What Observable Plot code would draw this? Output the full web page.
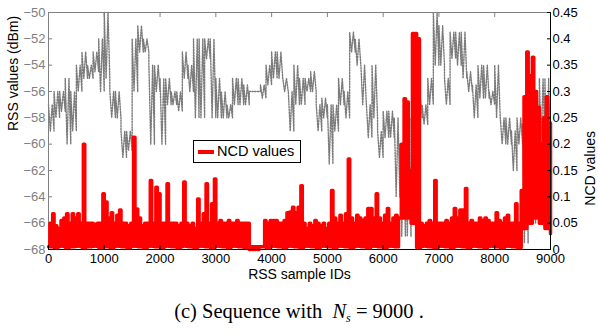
<!DOCTYPE html>
<html><head><meta charset="utf-8">
<script src="https://cdn.jsdelivr.net/npm/d3@7"></script>
<script src="https://cdn.jsdelivr.net/npm/@observablehq/plot@0.6"></script>
<style>
body{margin:0;background:#fff;}
#wrap{position:relative;width:598px;height:333px;font-family:"Liberation Sans",Arial,sans-serif;}
#wrap svg{position:absolute;left:0;top:0;}
#legend{position:absolute;left:193px;top:140px;width:106px;height:21px;border:1px solid #000;background:#fff;}
#legend .sw{position:absolute;left:4px;top:9px;width:16px;height:4px;background:#ff0000;}
#legend .lt{position:absolute;left:23px;top:2px;font-size:14.5px;line-height:17px;color:#000;white-space:nowrap;}
#cap{position:absolute;left:0;top:299px;width:598px;text-align:center;font-family:"Liberation Serif","Times New Roman",serif;font-size:20.5px;line-height:24px;white-space:pre;color:#000;}
</style></head>
<body>
<div id="wrap"></div>
<script>
// tick values
const xTicks = [0,1000,2000,3000,4000,5000,6000,7000,8000,9000];
const rssTicks = [-68,-66,-64,-62,-60,-58,-56,-54,-52,-50];
const ncdTicks = [0,0.05,0.1,0.15,0.2,0.25,0.3,0.35,0.4,0.45];
const ncdTickLabels = ["0","0.05","0.1","0.15","0.2","0.25","0.3","0.35","0.4","0.45"];

// RSS band per 100-sample bin: upper and lower levels (dBm)
const rssHi = [-57,-56,-56,-55,-56,-54,-53,-54,-53,-52,
 -50,-56,-56,-59,-59,-52,-51,-52,-54,-54,
 -55,-55,-56,-56,-53,-54,-52,-52,-52,-52,
 -55,-56,-57,-55,-55,-55.5,-56,-56,-55.5,-54,
 -53,-53,-55,-56,-54,-55,-55,-54.5,-57,-56.5,
 -57,-57,-55,-56,-51.5,-52,-54,-57,-54,-59,
 -57.5,-57.5,-58,-60,-60,-58,-56.5,-57,-55,-50,
 -51,-55,-51.5,-51.5,-51.5,-54.5,-55.5,-54,-54,-56,
 -54,-58,-58,-59,-58,-58.5,-57,-56.5,-55,-55];
const rssLo = [-59,-58,-57.5,-60,-59,-56,-55,-55,-54.5,-56,
 -55,-58,-58,-61,-60.5,-56,-53,-53,-60,-56,
 -60,-57,-57,-57.5,-55,-56,-58,-58,-53.5,-58,
 -58,-58,-58,-57,-57,-57,-56,-56,-56.5,-55.5,
 -55,-55,-56,-59,-57,-57,-56,-56,-59,-58,
 -61.5,-59,-57,-58,-53,-54,-57,-59.5,-58,-61,
 -59.5,-59.5,-64,-67,-67,-64,-58,-58.5,-57,-54,
 -54,-57,-53.5,-54,-55,-56,-58,-56.5,-56.5,-57,
 -58,-60,-60,-62,-60,-67.5,-64,-66,-60,-62];

// NCD peak per 50-sample bin
const ncdHi = [0.05,0.068,0.045,0.04,0.055,0.06,0.068,0.05,0.068,0.06,0.068,0.05,0.2,0.05,0.05,0.05,0.048,0.05,0.05,0.106,
 0.09,0.06,0.07,0.05,0.065,0.075,0.05,0.05,0.045,0.05,0.213,0.077,0.06,0.045,0.05,0.05,0.131,0.05,0.118,0.106,
 0.05,0.05,0.125,0.05,0.05,0.05,0.045,0.05,0.128,0.05,0.045,0.05,0.04,0.096,0.05,0.068,0.125,0.05,0.087,0.134,
 0.05,0.055,0.05,0.05,0.055,0.05,0.05,0.055,0.05,0.05,0.05,0.05,0.005,0.005,0.005,0.005,0.005,0.055,0.05,0.055,
 0.055,0.055,0.05,0.05,0.055,0.07,0.071,0.08,0.07,0.08,0.121,0.05,0.04,0.05,0.045,0.055,0.05,0.045,0.05,0.04,
 0.05,0.112,0.06,0.05,0.065,0.05,0.068,0.172,0.06,0.05,0.065,0.06,0.055,0.06,0.078,0.078,0.06,0.106,0.06,0.05,
 0.065,0.078,0.05,0.06,0.065,0.06,0.2,0.286,0.28,0.15,0.41,0.41,0.4,0.05,0.045,0.05,0.055,0.05,0.131,0.05,
 0.05,0.05,0.055,0.05,0.06,0.078,0.06,0.075,0.075,0.116,0.05,0.055,0.05,0.05,0.06,0.055,0.06,0.055,0.05,0.05,
 0.07,0.055,0.05,0.06,0.065,0.05,0.05,0.087,0.05,0.112,0.29,0.375,0.33,0.365,0.3,0.27,0.2,0.25,0.29,0.24];
// NCD floor per 100-sample bin
const ncdLo = [0.005,0.004,0.006,0.004,0.005,0.006,0.004,0.005,0.006,0.004,
 0.005,0.004,0.006,0.005,0.004,0.006,0.005,0.004,0.006,0.005,
 0.004,0.006,0.005,0.004,0.006,0.005,0.004,0.006,0.005,0.004,
 0.006,0.005,0.004,0.006,0.005,0.004,0,0,0.005,0.004,
 0.006,0.005,0.004,0.006,0.005,0.004,0.006,0.005,0.004,0.006,
 0.005,0.004,0.006,0.005,0.004,0.006,0.005,0.004,0.006,0.005,
 0.004,0.006,0.005,0.06,0.06,0.05,0.004,0.006,0.005,0.004,
 0.006,0.005,0.004,0.006,0.005,0.004,0.006,0.005,0.004,0.006,
 0.005,0.004,0.006,0.005,0.004,0.04,0.05,0.06,0.05,0.04];
const ncdEnd = 0.03;

// RSS drawn as a dense zig-zag between each bin's two read levels
const rssPts = [];
rssHi.forEach((h, i) => {
  rssPts.push({x: i*100, y: h});
  rssPts.push({x: i*100 + 100/3, y: rssLo[i]});
  rssPts.push({x: i*100 + 200/3, y: h});
  rssPts.push({x: i*100 + 99, y: rssLo[i]});
});
const ncdPts = [];
ncdHi.forEach((h, i) => { ncdPts.push({x: i*50, y: ncdLo[Math.floor(i/2)]}); ncdPts.push({x: i*50+25, y: h}); });
ncdPts.push({x: 9000, y: ncdEnd});

const common = {
  width: 598, height: 290, marginTop: 12, marginBottom: 41, marginLeft: 48, marginRight: 48,
  x: {domain: [0, 9000], label: null},
};

const p1 = Plot.plot({
  ...common,
  y: {domain: [-68, -50], label: null},
  style: {background: "transparent", color: "#808080", fontFamily: "Liberation Sans, Arial, sans-serif", fontSize: "13px"},
  marks: [
    Plot.line(rssPts, {x: "x", y: "y", stroke: "#7a7a7a", strokeWidth: 1.4, strokeDasharray: "1.4,1.4"}),
    Plot.ruleX([0], {stroke: "#808080"}),
    Plot.ruleY([-50], {stroke: "#808080"}),
    Plot.axisY({ticks: rssTicks, tickSize: -4, tickFormat: () => "", label: null}),
    Plot.axisY({ticks: rssTicks, tickSize: 0, tickPadding: 3, fontSize: 13, label: null}),
    Plot.axisX({anchor: "top", ticks: xTicks, tickSize: -4, tickFormat: () => "", label: null}),
    Plot.text(["RSS values (dBm)"], {frameAnchor: "left", dx: -35, rotate: -90, fontSize: 14, fill: "#000"})
  ]
});

const p2 = Plot.plot({
  ...common,
  y: {domain: [0, 0.45], label: null},
  style: {background: "transparent", color: "#000", fontFamily: "Liberation Sans, Arial, sans-serif", fontSize: "13px"},
  marks: [
    Plot.line(ncdPts, {x: "x", y: "y", stroke: "#ff0000", strokeWidth: 3.5, curve: "step-after"}),
    Plot.ruleX([9000], {stroke: "#000"}),
    Plot.ruleY([0], {stroke: "#000"}),
    Plot.axisY({anchor: "right", ticks: ncdTicks, tickSize: -4, tickFormat: () => "", label: null}),
    Plot.axisY({anchor: "right", ticks: ncdTicks, tickSize: 0, tickPadding: 2, fontSize: 13, tickFormat: (d, i) => ncdTickLabels[i], label: null}),
    Plot.axisX({anchor: "bottom", ticks: xTicks, tickSize: -4, tickFormat: () => "", label: null}),
    Plot.axisX({anchor: "bottom", ticks: xTicks, tickSize: 0, tickPadding: 4, fontSize: 13, tickFormat: d => String(d), label: null}),
    Plot.text(["RSS sample IDs"], {frameAnchor: "bottom", dy: 29, fontSize: 14, fill: "#000"}),
    Plot.text(["NCD values"], {frameAnchor: "right", dx: 40, rotate: -90, fontSize: 14, fill: "#000"})
  ]
});

const wrap = document.getElementById("wrap");
wrap.appendChild(p1);
wrap.appendChild(p2);
const lg = document.createElement("div");
lg.id = "legend";
lg.innerHTML = '<div class="sw"></div><div class="lt">NCD values</div>';
wrap.appendChild(lg);
const cap = document.createElement("div");
cap.id = "cap";
cap.innerHTML = '(c) Sequence with  <i>N</i><sub style="font-size:12px;vertical-align:-4px"><i>s</i></sub> = 9000 .';
wrap.appendChild(cap);
</script>
</body></html>
